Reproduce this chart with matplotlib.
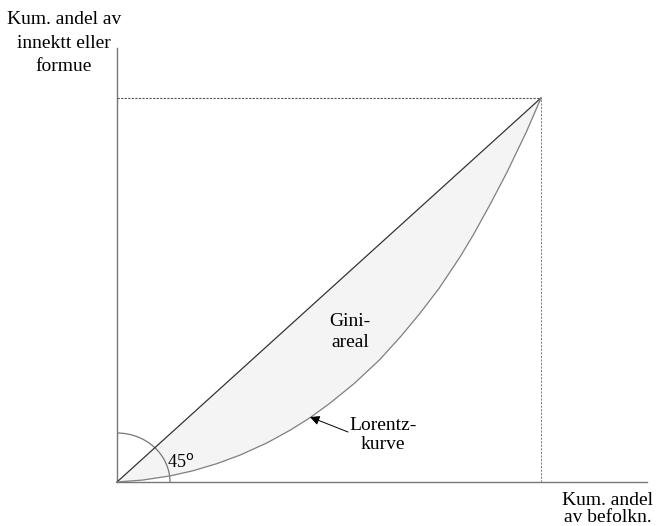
import matplotlib
matplotlib.use("Agg")
import matplotlib.pyplot as plt
from matplotlib.patches import Arc
import numpy as np

# Lorenz curve (cum. share of population, cum. share of income)
pop_share = [0.0, 0.06, 0.126, 0.18, 0.236, 0.29, 0.354, 0.41, 0.456, 0.502,
             0.56, 0.62, 0.67, 0.715, 0.76, 0.809, 0.84, 0.88, 0.919, 0.966, 1.0]
income_share = [0.0, 0.005, 0.016, 0.0295, 0.048, 0.07, 0.102, 0.136, 0.168, 0.205,
                0.257, 0.319, 0.38, 0.44, 0.505, 0.586, 0.643, 0.723, 0.805, 0.913, 1.0]
equality = [0.0, 1.0]

plt.rcParams["font.family"] = ["Liberation Serif", "DejaVu Serif"]

W, H = 659, 526
fig = plt.figure(figsize=(W / 100, H / 100), dpi=100)
ax = fig.add_axes([0, 0, 1, 1])
ax.set_axis_off()

# pixel layout: origin at (117, 482), point (1, 1) at (541, 98)
X0, Y0, SX, SY = 117, 482, 424, 384
ax.set_xlim(-X0 / SX, (W - X0) / SX)
ax.set_ylim(-(H - Y0) / SY, Y0 / SY)


def px(x, y):
    return (x - X0) / SX, (Y0 - y) / SY


x = np.array(pop_share)
y = np.array(income_share)

# Gini area between equality line and Lorenz curve
ax.fill_between(x, x, y, color="#f4f4f4", lw=0, zorder=1)
ax.plot(equality, equality, color="#333333", lw=0.9, zorder=3)
ax.plot(x, y, color="#808080", lw=0.9, zorder=3, solid_joinstyle="round")

# axes
ax.plot(*zip(px(117, 482), px(647, 482)), color="#777777", lw=1.0)
ax.plot(*zip(px(117, 482), px(117, 48)), color="#777777", lw=1.0)

# dotted guides to (1, 1)
ax.plot([0, 1], [1, 1], color="#555555", lw=0.8, ls=(0, (2, 1.2)))
ax.plot([1, 1], [0, 1], color="#888888", lw=0.8, ls=(0, (2, 1.2)))

# 45 degree arc
ax.add_patch(Arc((0, 0), 2 * 53 / SX, 2 * 49 / SY, theta1=0, theta2=90,
                 color="#777777", lw=0.9))
ax.text(*px(181, 462), "45$^{\\mathrm{o}}$", fontsize=13, ha="center", va="center")

fs = 14
ax.text(*px(64, 43), "Kum. andel av\ninnektt eller\nformue", fontsize=fs,
        ha="center", va="center", linespacing=1.5)
ax.text(*px(608, 509), "Kum. andel\nav befolkn.", fontsize=fs,
        ha="center", va="center", linespacing=1.05)
ax.text(*px(350, 332), "Gini-\nareal", fontsize=fs, ha="center", va="center",
        linespacing=1.25)
ax.text(*px(383, 435), "Lorentz-\nkurve", fontsize=fs, ha="center", va="center",
        linespacing=1.15)

ax.annotate("", xy=px(310, 417), xytext=px(348, 432),
            arrowprops=dict(arrowstyle="-|>", color="black", lw=0.7,
                            mutation_scale=14, shrinkA=0, shrinkB=0))

fig.savefig("out.png", dpi=100)
